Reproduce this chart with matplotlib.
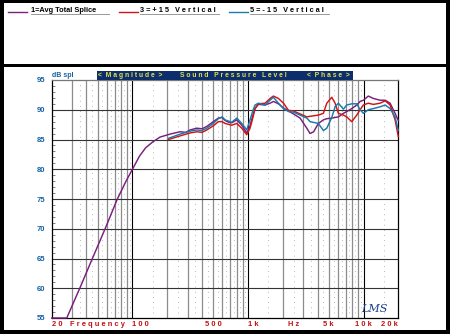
import matplotlib
matplotlib.use("Agg")
import matplotlib.pyplot as plt
from matplotlib.patches import Rectangle
from matplotlib.lines import Line2D
import matplotlib.transforms as mtransforms

# ---------------- data ----------------
freq_avg = [20, 27, 35, 45, 58, 74, 88, 100, 115, 130, 150, 173, 211, 258, 290, 315,
            360, 400, 440, 501, 554, 598, 633, 680, 723, 800, 883, 975, 1042, 1100,
            1151, 1230, 1405, 1553, 1660, 1834, 2030, 2240, 2473, 2825, 3228, 3446,
            3700, 4066, 4495, 4809, 5311, 6060, 6700, 7160, 7910, 8740, 9340, 9980,
            11000, 12170, 13920, 15400, 16980, 18760, 20000]
spl_avg = [55.0, 55.0, 60.0, 65.0, 70.0, 75.0, 78.0, 80.0, 82.2, 83.6, 84.6, 85.4,
           85.9, 86.3, 86.2, 86.6, 86.9, 86.8, 87.2, 88.0, 88.6, 88.7, 88.2, 87.9,
           87.8, 88.3, 87.4, 86.1, 87.3, 89.0, 90.2, 90.9, 90.8, 91.1, 91.4, 91.0,
           90.3, 89.8, 89.3, 88.6, 86.9, 86.0, 86.3, 87.7, 88.3, 88.5, 88.6, 88.8,
           89.4, 89.7, 90.2, 90.8, 91.4, 91.6, 92.3, 91.9, 91.6, 91.6, 91.1, 89.4, 88.2]

freq_vert = [205, 258, 315, 360, 400, 440, 501, 554, 598, 633, 723, 800, 883, 975,
             1042, 1100, 1151, 1230, 1405, 1553, 1660, 1834, 2030, 2240, 2473, 2825,
             3228, 3446, 4066, 4495, 4809, 5311, 5675, 6060, 6700, 7160, 7910, 8740,
             9340, 9980, 11000, 12170, 13920, 15400, 16980, 18760, 20000]
spl_up15 = [85.0, 85.6, 86.1, 86.3, 86.2, 86.6, 87.3, 88.0, 88.0, 87.7, 87.4, 87.7,
            86.9, 85.8, 86.9, 88.6, 90.2, 91.0, 91.1, 91.9, 92.3, 91.9, 91.1, 89.9,
            89.8, 89.3, 88.8, 88.9, 89.1, 89.4, 91.1, 92.1, 91.1, 89.4, 89.1, 88.8,
            88.0, 89.1, 90.0, 90.8, 91.1, 90.9, 91.1, 91.5, 90.8, 88.3, 85.5]
spl_dn15 = [85.2, 85.9, 86.4, 86.6, 86.5, 86.9, 87.7, 88.5, 88.8, 88.3, 87.9, 88.6,
            87.7, 86.6, 88.3, 89.8, 90.8, 91.1, 90.8, 91.6, 92.1, 91.1, 90.2, 89.7,
            89.6, 89.1, 88.6, 88.0, 87.7, 86.5, 86.9, 88.7, 90.5, 91.1, 90.1, 90.8,
            91.0, 91.0, 90.0, 89.4, 90.0, 90.2, 90.5, 90.8, 90.2, 88.8, 86.5]

series_labels = ["1=Avg Total Splice", "3 = + 1 5   V e r t i c a l", "5 = - 1 5   V e r t i c a l"]
yticks = [55, 60, 65, 70, 75, 80, 85, 90, 95]
xlabels = [("2 0", 20, "left"), ("F r e q u e n c y", 50, "center"), ("1 0 0", 100, "left"),
           ("5 0 0", 500, "center"), ("1 k", 1000, "left"), ("H z", 2500, "center"),
           ("5 k", 5000, "center"), ("1 0 k", 10000, "center"), ("2 0 k", 20000, "right")]

# ---------------- style ----------------
W, H = 450, 334
C_PURPLE = "#7a1f7c"
C_RED = "#d41414"
C_BLUE = "#1a7aa8"
C_YBLUE = "#1560a0"
C_XRED = "#c41010"
NAVY = "#0c2e6c"
YELLOW = "#e4e048"
FONT = "Liberation Sans"

def fx(x):
    return x / W

def fy(y):
    return 1 - y / H

fig = plt.figure(figsize=(4.5, 3.34), dpi=100, facecolor="black")

# white panels (behind the axes)
fig.patches.append(Rectangle((fx(4), fy(64)), fx(442), 61 / H, transform=fig.transFigure,
                             facecolor="white", edgecolor="none", zorder=-5))
fig.patches.append(Rectangle((fx(4), fy(329.5)), fx(442), 262.5 / H, transform=fig.transFigure,
                             facecolor="white", edgecolor="none", zorder=-5))

# legend in top panel
leg = [(8.3, 31, C_PURPLE, 108.5), (119.3, 140, C_RED, 218.5), (229.3, 250, C_BLUE, 328.5)]
for (lx, tx, col, tend), lab in zip(leg, series_labels):
    fig.lines.append(Line2D([fx(lx), fx(lx + 18.4)], [fy(11.5), fy(11.5)], transform=fig.transFigure,
                            color=col, lw=1.0))
    fig.lines.append(Line2D([fx(tx), fx(tend)], [fy(14.3), fy(14.3)], transform=fig.transFigure,
                            color="#888888", lw=0.6))
    fig.text(fx(tx), fy(10.6), lab, fontsize=5.3, fontweight="bold", family=FONT,
             color="black", ha="left", va="center")

# axes
ax = fig.add_axes([fx(51.7), fy(318), fx(398.3 - 51.7), (318 - 80) / H], zorder=1)
ax.set_facecolor("white")
ax.set_xscale("log")
ax.set_xlim(20, 20000)
ax.set_ylim(55, 95)

# grid
for dec in [10, 100, 1000, 10000]:
    for m in range(1, 10):
        f = dec * m
        if f <= 20 or f >= 20000:
            continue
        if m == 1:
            ax.axvline(f, color="black", lw=0.8, zorder=1)
        else:
            ax.axvline(f, color="#8c8c8c", lw=0.9, zorder=1)
        fm = dec * (m + 0.5)
        if 20 < fm < 20000:
            ax.axvline(fm, color="#9a9a9a", lw=0.6, zorder=1,
                       linestyle=(0, (0.9, 5.3)))
for y in yticks[1:-1]:
    ax.axhline(y, color="#333333", lw=0.8, zorder=1)

# curves
ax.plot(freq_avg, spl_avg, color=C_PURPLE, lw=1.05, zorder=3, clip_on=False)
ax.plot(freq_vert, spl_up15, color=C_RED, lw=1.05, zorder=3, clip_on=False)
ax.plot(freq_vert, spl_dn15, color=C_BLUE, lw=1.05, zorder=3, clip_on=False)

# spines/ticks
for s in ["left", "bottom", "right"]:
    ax.spines[s].set_color("black")
    ax.spines[s].set_linewidth(0.9)
ax.spines["top"].set_color("#777777")
ax.spines["top"].set_linewidth(0.9)
ax.set_xticks([])
ax.minorticks_off()
ax.set_yticks(yticks)
ax.set_yticklabels([str(v) for v in yticks], fontsize=5.5, fontweight="bold",
                   color=C_YBLUE, family=FONT)
ax.tick_params(axis="y", length=0, pad=5)
ax.set_yticks(range(56, 95), minor=True)
ax.tick_params(axis="y", which="minor", length=2, direction="in", color="#555555", width=0.5)

# x labels
trans = mtransforms.blended_transform_factory(ax.transData, ax.transAxes)
for txt, f, ha in xlabels:
    ax.text(f, -6 / 238, txt, transform=trans, ha=ha, va="center", fontsize=5.4,
            fontweight="bold", color=C_XRED, family=FONT, clip_on=False)

# dB spl label
fig.text(fx(52), fy(75.5), "dB spl", fontsize=5.0, fontweight="bold", color=C_YBLUE,
         family=FONT, ha="left", va="center")

# title bar
fig.patches.append(Rectangle((fx(97), fy(79.5)), fx(353 - 97), 8.7 / H, transform=fig.transFigure,
                             facecolor=NAVY, edgecolor="none", zorder=2))
for txt, x in [("<  M a g n i t u d e  >", 98), ("S o u n d   P r e s s u r e   L e v e l", 180),
               ("<  P h a s e  >", 307)]:
    fig.text(fx(x), fy(75.3), txt, fontsize=4.9, fontweight="bold", color=YELLOW,
             family=FONT, ha="left", va="center", zorder=3)

# LMS logo
fig.text(fx(361), fy(309), "LMS", fontsize=8, fontstyle="italic", color="#173a8c",
         family="DejaVu Serif", ha="left", va="center", zorder=3)

fig.savefig("out.png", dpi=100, facecolor="black")
